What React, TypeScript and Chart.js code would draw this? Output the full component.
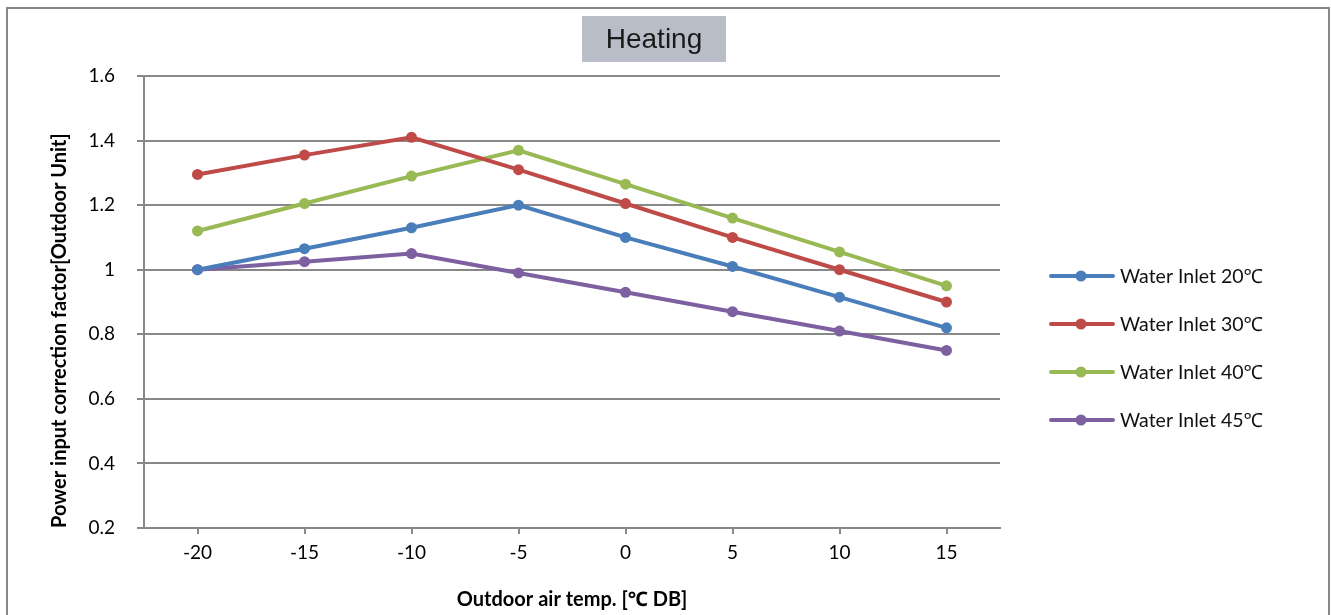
import React, { useEffect, useRef } from "react";
import { Chart, registerables } from "chart.js";

Chart.register(...registerables);

const categories = ["-20", "-15", "-10", "-5", "0", "5", "10", "15"];
const seriesNames = ["Water Inlet 20℃", "Water Inlet 30℃", "Water Inlet 40℃", "Water Inlet 45℃"];
const inlet20 = [1.0, 1.065, 1.13, 1.2, 1.1, 1.01, 0.915, 0.82];
const inlet30 = [1.295, 1.355, 1.41, 1.31, 1.205, 1.1, 1.0, 0.9];
const inlet40 = [1.12, 1.205, 1.29, 1.37, 1.265, 1.16, 1.055, 0.95];
const inlet45 = [1.0, 1.025, 1.05, 0.99, 0.93, 0.87, 0.81, 0.75];
const seriesColors = ["#4A7EBB", "#BE4B48", "#98B954", "#7D60A0"];
const chartTitle = "Heating";
const xTitle = "Outdoor air temp. [℃ DB]";
const yTitle = "Power input correction factor[Outdoor Unit]";

const GRID = "#888888";
const FONT = "Lato, 'Noto Sans', sans-serif";

const titleBoxPlugin = {
  id: "titleBox",
  afterDraw(chart: any) {
    const ctx = chart.ctx;
    ctx.save();
    ctx.fillStyle = "#B9BDC7";
    ctx.fillRect(582, 16, 144, 46);
    ctx.fillStyle = "#1a1a1a";
    ctx.font = "28px 'Liberation Sans', Arial, sans-serif";
    ctx.textAlign = "center";
    ctx.textBaseline = "middle";
    ctx.fillText(chartTitle, 654, 40);
    ctx.restore();
  },
};

const legendPlugin = {
  id: "sideLegend",
  afterDraw(chart: any) {
    const ctx = chart.ctx;
    ctx.save();
    chart.data.datasets.forEach((ds: any, i: number) => {
      const y = 276 + 48 * i;
      ctx.strokeStyle = ds.borderColor;
      ctx.lineWidth = 4;
      ctx.lineCap = "round";
      ctx.beginPath();
      ctx.moveTo(1051, y);
      ctx.lineTo(1113, y);
      ctx.stroke();
      ctx.fillStyle = ds.borderColor;
      ctx.beginPath();
      ctx.arc(1081, y, 5.5, 0, Math.PI * 2);
      ctx.fill();
      ctx.fillStyle = "#111111";
      ctx.font = "19.5px " + FONT;
      ctx.textAlign = "left";
      ctx.textBaseline = "middle";
      ctx.fillText(ds.label, 1120, y + 1);
    });
    ctx.restore();
  },
};

export default function App() {
  const ref = useRef<HTMLCanvasElement | null>(null);

  useEffect(() => {
    if (!ref.current) return;
    const all = [inlet20, inlet30, inlet40, inlet45];
    const chart = new Chart(ref.current, {
      type: "line",
      data: {
        labels: categories,
        datasets: all.map((d, i) => ({
          label: seriesNames[i],
          data: d,
          borderColor: seriesColors[i],
          backgroundColor: seriesColors[i],
          pointBackgroundColor: seriesColors[i],
          pointBorderColor: seriesColors[i],
          pointBorderWidth: 0,
          pointRadius: 5.5,
          borderWidth: 4,
          tension: 0,
          fill: false,
        })),
      },
      options: {
        responsive: false,
        animation: false,
        layout: { padding: { top: 76, right: 331, left: 0, bottom: 0 } },
        plugins: {
          legend: { display: false },
          title: { display: false },
          tooltip: { enabled: false },
        },
        scales: {
          x: {
            type: "category",
            offset: true,
            afterFit(scale: any) {
              scale.height = 87;
            },
            grid: {
              display: true,
              drawOnChartArea: false,
              offset: false,
              color: GRID,
              lineWidth: 2,
              tickLength: 6,
              tickWidth: 2,
              tickColor: GRID,
            },
            border: { display: true, color: GRID, width: 2 },
            ticks: {
              color: "#000000",
              font: { family: FONT, size: 19 },
              padding: 7,
              maxRotation: 0,
            },
            title: {
              display: true,
              text: xTitle,
              color: "#000000",
              font: { family: FONT, size: 20, weight: "bold" },
              padding: { top: 0, bottom: 3 },
            },
          },
          y: {
            min: 0.2,
            max: 1.6,
            afterFit(scale: any) {
              scale.width = 144;
            },
            ticks: {
              stepSize: 0.2,
              color: "#000000",
              font: { family: FONT, size: 19 },
              padding: 22,
              callback: (v: any) => String(parseFloat(Number(v).toFixed(2))),
            },
            grid: {
              color: GRID,
              lineWidth: 2,
              tickLength: 7,
            },
            border: { display: true, color: GRID, width: 2 },
            title: {
              display: true,
              text: yTitle,
              align: "start",
              color: "#000000",
              font: { family: FONT, size: 20, weight: "bold" },
              padding: { top: 48, bottom: 0 },
            },
          },
        },
      },
      plugins: [titleBoxPlugin, legendPlugin],
    } as any);
    return () => chart.destroy();
  }, []);

  return (
    <div style={{ position: "absolute", left: 0, top: 0, width: 1331, height: 615, overflow: "hidden", background: "#ffffff" }}>
      <div
        style={{
          position: "absolute",
          left: 6,
          top: 7,
          width: 1324,
          height: 700,
          border: "2px solid #878787",
          boxSizing: "border-box",
        }}
      />
      <canvas ref={ref} width={1331} height={615} style={{ position: "absolute", left: 0, top: 0 }} />
    </div>
  );
}
